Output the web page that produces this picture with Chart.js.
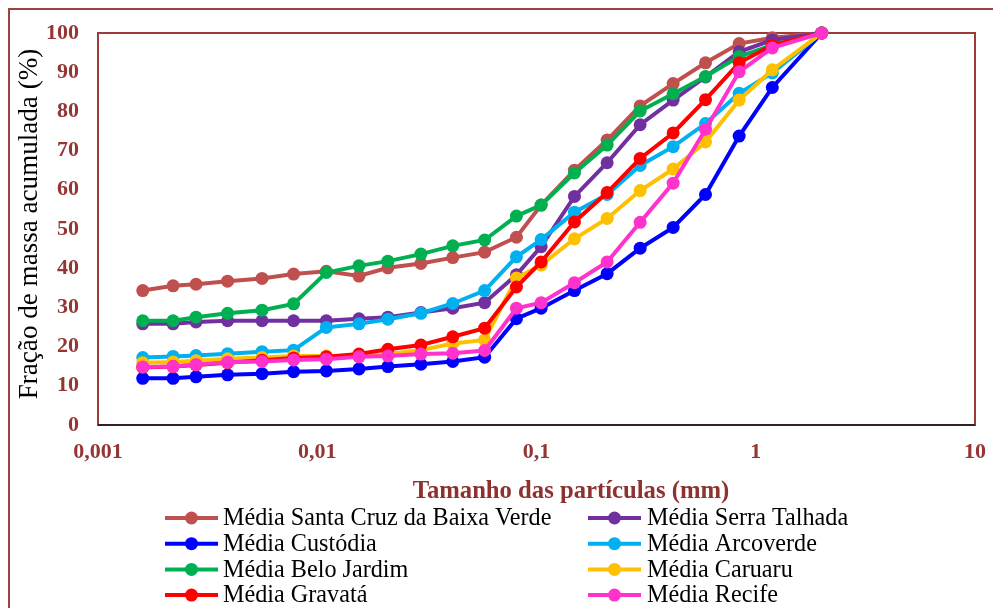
<!DOCTYPE html>
<html>
<head>
<meta charset="utf-8">
<script src="https://cdn.jsdelivr.net/npm/chart.js@4"></script>
<style>
  body { margin: 0; background: #fff; }
  canvas { display: block; }
</style>
</head>
<body>
<canvas id="granChart" width="993" height="608"></canvas>
<script>
// particle sizes (mm)
const sizes = [0.0016, 0.0022, 0.0028, 0.0039, 0.0056, 0.0078, 0.011, 0.0155, 0.021, 0.0297, 0.0415,
  0.058, 0.081, 0.105, 0.149, 0.21, 0.297, 0.42, 0.59, 0.84, 1.19, 2.0];

const santaCruz = [34.3, 35.5, 35.9, 36.7, 37.4, 38.5, 39.2, 38.0, 40.1, 41.2, 42.7, 44.1, 47.9, 56.1, 65.0, 72.7, 81.4, 87.1, 92.4, 97.3, 98.8, 100];
const serraTalhada = [25.8, 25.8, 26.3, 26.6, 26.6, 26.6, 26.6, 27.1, 27.5, 28.7, 29.8, 31.2, 38.3, 45.5, 58.3, 66.9, 76.6, 82.9, 88.8, 95.2, 98.2, 100];
const custodia = [11.9, 11.9, 12.3, 12.8, 13.1, 13.6, 13.8, 14.3, 14.9, 15.5, 16.2, 17.3, 27.1, 29.8, 34.3, 38.6, 45.1, 50.4, 58.8, 73.7, 86.1, 100];
const arcoverde = [17.2, 17.5, 17.7, 18.2, 18.7, 19.1, 24.9, 25.8, 27.0, 28.5, 31.0, 34.3, 42.9, 47.3, 54.3, 58.8, 66.2, 71.0, 76.9, 84.6, 89.8, 100];
const beloJardim = [26.6, 26.6, 27.5, 28.5, 29.3, 30.9, 38.9, 40.6, 41.8, 43.6, 45.7, 47.2, 53.3, 56.1, 64.3, 71.4, 80.1, 84.5, 88.9, 94.0, 96.9, 100];
const caruaru = [15.9, 16.1, 16.4, 16.9, 17.2, 17.6, 17.6, 17.6, 18.1, 19.1, 20.8, 21.7, 37.5, 40.8, 47.5, 52.7, 59.8, 65.3, 72.2, 82.9, 90.6, 100];
const gravata = [14.7, 14.9, 15.3, 15.9, 16.5, 17.1, 17.4, 18.1, 19.3, 20.4, 22.5, 24.7, 35.2, 41.6, 51.8, 59.3, 68.0, 74.5, 83.0, 92.4, 96.9, 100];
const recife = [14.8, 14.9, 15.4, 16.0, 16.2, 16.6, 16.8, 17.4, 17.6, 18.1, 18.3, 19.0, 29.8, 31.2, 36.3, 41.6, 51.7, 61.7, 75.4, 90.1, 96.2, 100];

const seriesNames = ["Média Santa Cruz da Baixa Verde", "Média Serra Talhada", "Média Custódia", "Média Arcoverde",
  "Média Belo Jardim", "Média Caruaru", "Média Gravatá", "Média Recife"];
const seriesValues = [santaCruz, serraTalhada, custodia, arcoverde, beloJardim, caruaru, gravata, recife];
const seriesColors = ["#C0504D", "#7030A0", "#0000FF", "#00B0F0", "#00B050", "#FFC000", "#FF0000", "#FF33CC"];

const yTicks = [0, 10, 20, 30, 40, 50, 60, 70, 80, 90, 100];
const xTitle = "Tamanho das partículas (mm)";
const yTitle = "Fração de massa acumulada (%)";

const axisRed = "#943634";
const serif = "'Liberation Serif', 'Times New Roman', serif";

// fit a font size so text has the wanted width
function fitFont(ctx, text, weight, width) {
  ctx.font = weight + " 20px " + serif;
  const w = ctx.measureText(text).width;
  return Math.round(200 * width / w) / 10;
}

const decor = {
  id: "decor",
  beforeDraw(chart) {
    const ctx = chart.ctx;
    ctx.save();
    ctx.fillStyle = "#fff";
    ctx.fillRect(0, 0, chart.width, chart.height);
    ctx.strokeStyle = "#A0413F";
    ctx.lineWidth = 2;
    ctx.strokeRect(9, 9, chart.width + 20, chart.height + 20);
    ctx.restore();
  },
  beforeDatasetsDraw(chart) {
    const ctx = chart.ctx;
    const a = chart.chartArea;
    ctx.save();
    ctx.strokeStyle = "#9B3C3A";
    ctx.lineWidth = 2;
    ctx.strokeRect(a.left, a.top, a.right - a.left, a.bottom - a.top);
    ctx.strokeStyle = "#3A1F1F";
    ctx.beginPath();
    ctx.moveTo(a.left, a.bottom);
    ctx.lineTo(a.right, a.bottom);
    ctx.stroke();
    ctx.restore();
  },
  afterDraw(chart) {
    const ctx = chart.ctx;
    ctx.save();
    // x title
    let fs = fitFont(ctx, xTitle, "bold", 317);
    ctx.font = "bold " + fs + "px " + serif;
    ctx.fillStyle = "#8E3230";
    ctx.textAlign = "center";
    ctx.textBaseline = "middle";
    ctx.fillText(xTitle, 571, 492);
    // y title
    fs = fitFont(ctx, yTitle, "normal", 350);
    ctx.font = "normal " + fs + "px " + serif;
    ctx.fillStyle = "#000";
    ctx.translate(30, 224);
    ctx.rotate(-Math.PI / 2);
    ctx.fillText(yTitle, 0, 0);
    ctx.restore();

    // legend, two columns
    ctx.save();
    const lfs = fitFont(ctx, seriesNames[0], "normal", 328);
    ctx.font = "normal " + lfs + "px " + serif;
    ctx.textBaseline = "middle";
    ctx.textAlign = "left";
    const lineX = [165, 588];
    const textX = [223, 647];
    chart.data.datasets.forEach((ds, i) => {
      const col = i % 2;
      const row = Math.floor(i / 2);
      const y = 518 + row * 25.7;
      ctx.strokeStyle = ds.borderColor;
      ctx.lineWidth = 4;
      ctx.beginPath();
      ctx.moveTo(lineX[col], y);
      ctx.lineTo(lineX[col] + 53, y);
      ctx.stroke();
      ctx.fillStyle = ds.borderColor;
      ctx.beginPath();
      ctx.arc(lineX[col] + 26.5, y, 6.5, 0, Math.PI * 2);
      ctx.fill();
      ctx.fillStyle = "#000";
      ctx.fillText(ds.label, textX[col], y + 1);
    });
    ctx.restore();
  }
};

const datasets = seriesNames.map((name, i) => ({
  label: name,
  data: sizes.map((s, j) => ({ x: s, y: seriesValues[i][j] })),
  borderColor: seriesColors[i],
  backgroundColor: seriesColors[i],
  pointBackgroundColor: seriesColors[i],
  pointBorderColor: seriesColors[i],
  borderWidth: 4,
  pointRadius: 6.5,
  pointBorderWidth: 0,
  tension: 0,
  clip: false,
  order: seriesNames.length - i
}));

function xLabel(value) {
  const e = Math.log10(value);
  const r = Math.round(e);
  if (Math.abs(e - r) > 1e-6) return "";
  const v = Math.pow(10, r);
  return (r < 0 ? v.toFixed(-r) : String(v)).replace(".", ",");
}

new Chart(document.getElementById("granChart"), {
  type: "line",
  data: { datasets: datasets },
  options: {
    responsive: false,
    animation: false,
    devicePixelRatio: 1,
    layout: { padding: { left: 0, top: 33, right: 18, bottom: 0 } },
    plugins: {
      legend: { display: false },
      tooltip: { enabled: false }
    },
    scales: {
      x: {
        type: "logarithmic",
        min: 0.001,
        max: 10,
        grid: { display: false, drawTicks: false },
        border: { display: false },
        ticks: {
          autoSkip: false,
          maxRotation: 0,
          padding: 14,
          color: axisRed,
          font: { family: serif, weight: "bold", size: 22 },
          callback: (v) => xLabel(v)
        },
        afterFit: (scale) => {
          scale.height = 183;
          scale.paddingLeft = 0;
          scale.paddingRight = 0;
        }
      },
      y: {
        min: 0,
        max: 100,
        grid: { display: false, drawTicks: false },
        border: { display: false },
        afterBuildTicks: (scale) => { scale.ticks = yTicks.map(v => ({ value: v })); },
        ticks: {
          padding: 19,
          color: axisRed,
          font: { family: serif, weight: "bold", size: 22 }
        },
        afterFit: (scale) => {
          scale.width = 98;
          scale.paddingTop = 0;
          scale.paddingBottom = 0;
        }
      }
    }
  },
  plugins: [decor]
});
</script>
</body>
</html>
